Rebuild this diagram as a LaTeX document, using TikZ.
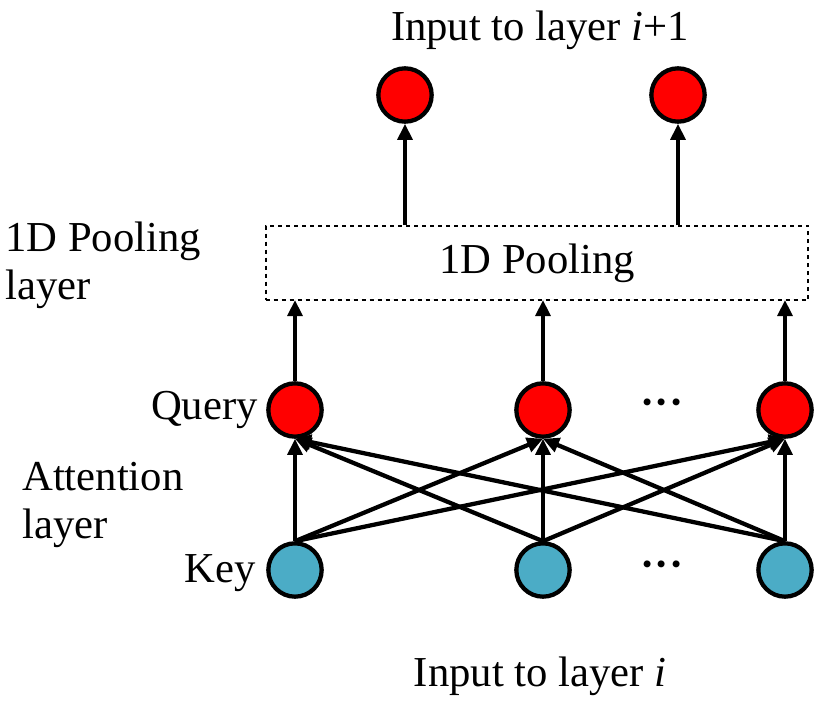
\documentclass[tikz,border=0pt]{standalone}
\usepackage{fontspec}
\setmainfont{Liberation Serif}
\usetikzlibrary{arrows.meta}
\definecolor{qred}{RGB}{255,0,0}
\definecolor{kblue}{RGB}{75,172,198}
\begin{document}
\begin{tikzpicture}[x=0.75pt,y=-0.75pt,
  qnode/.style={circle,draw=black,line width=3.2pt,fill=qred,minimum size=40pt,inner sep=0pt},
  knode/.style={circle,draw=black,line width=3.2pt,fill=kblue,minimum size=40pt,inner sep=0pt},
  arr/.style={line width=3.2pt,-{Triangle[length=12pt,width=11pt]}},
  lab/.style={font=\fontsize{32}{36}\selectfont,align=left,inner sep=0pt}]
\useasboundingbox (0,0) rectangle (831,706);
\node[lab] (top) at (540,30) {Input to layer \textit{i}+1};
\node[lab] (bot) at (540,676) {Input to layer \textit{i}};
\node[lab,anchor=west] (pl) at (5,265) {1D Pooling\\layer};
\node[lab,anchor=west] (al) at (22,505) {Attention\\layer};
\node[lab,anchor=east] (ql) at (258,410) {Query};
\node[lab,anchor=east] (kl) at (256,573) {Key};
\node[draw,dashed,line width=1.5pt,minimum width=407pt,minimum height=56pt,font=\fontsize{32}{36}\selectfont] (pool) at (537,263) {1D Pooling};
\node[qnode] (o1) at (405,95) {};
\node[qnode] (o2) at (678,95) {};
\node[qnode] (q1) at (295,410) {};
\node[qnode] (q2) at (543,410) {};
\node[qnode] (q3) at (785,410) {};
\node[knode] (k1) at (295,570) {};
\node[knode] (k2) at (543,570) {};
\node[knode] (k3) at (785,570) {};
\node[lab] (d1) at (662,408) {\textbf{···}};
\node[lab] (d2) at (662,570) {\textbf{···}};
\coordinate (p1) at (405,225);
\coordinate (p2) at (678,225);
\coordinate (b1) at (295,300);
\coordinate (b2) at (543,300);
\coordinate (b3) at (785,300);
\draw[arr] (p1) -- (o1);
\draw[arr] (p2) -- (o2);
\draw[arr] (q1) -- (b1);
\draw[arr] (q2) -- (b2);
\draw[arr] (q3) -- (b3);
\foreach \k in {k1,k2,k3}{
  \foreach \q in {q1,q2,q3}{
    \draw[arr] (\k.north) -- (\q.south);
  }
}
\end{tikzpicture}
\end{document}
